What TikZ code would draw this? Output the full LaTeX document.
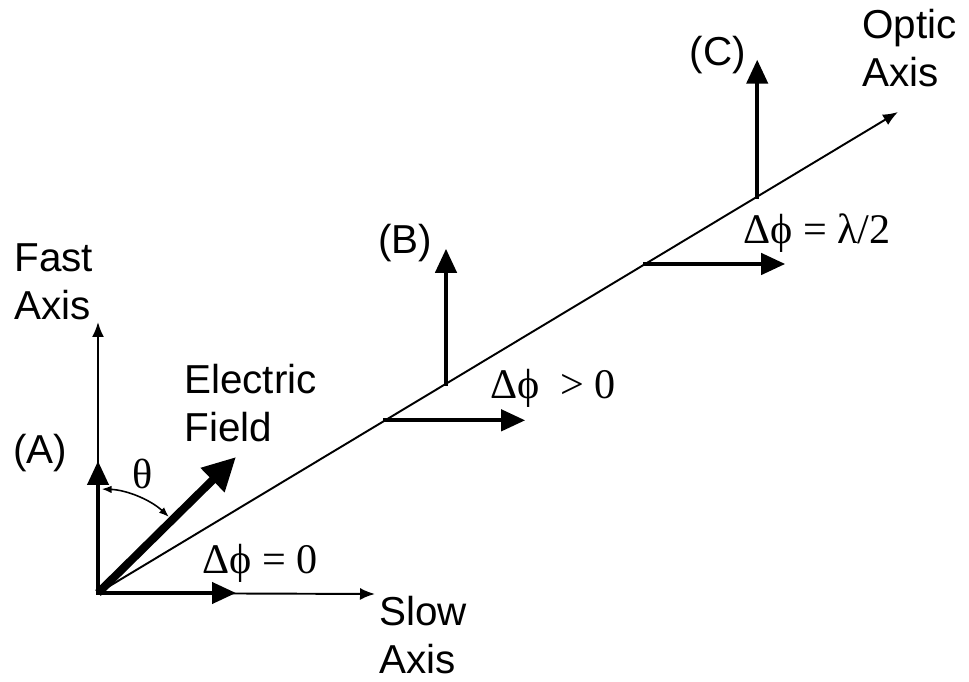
\documentclass[tikz,border=0pt]{standalone}
\usepackage{fontspec}
\setmainfont{Liberation Sans}
\newfontfamily\phasefont{Liberation Serif}
\usetikzlibrary{arrows.meta,calc}

\begin{document}
\begin{tikzpicture}[x=0.02cm,y=0.02cm,line join=miter,
  axisarrow/.style={line width=1.1pt,-{Latex[length=0.3cm,width=0.24cm]}},
  compvec/.style={line width=2.4pt,line cap=rect,-{Triangle[length=0.48cm,width=0.42cm]}},
  fieldvec/.style={line width=4.6pt,-{Triangle[length=0.66cm,width=0.64cm]}},
  anglearrow/.style={line width=0.9pt,{Latex[length=0.2cm,width=0.15cm]}-{Latex[length=0.2cm,width=0.15cm]}},
  lbl/.style={font=\fontsize{23}{27}\selectfont,align=left,inner sep=0pt},
  phase/.style={font=\phasefont\fontsize{24}{28}\selectfont,inner sep=0pt}]
  \useasboundingbox (0,0) rectangle (969,682);
  % axes
  \coordinate (O) at (98,89);
  \coordinate (fastT) at (98,360);
  \coordinate (slowT) at (375,88);
  \coordinate (opticT) at (898,570);
  \draw[axisarrow] (O) -- (fastT);
  \draw[axisarrow] (O) -- (slowT);
  \draw[axisarrow] (O) -- (opticT);
  % (A) entrance
  \coordinate (Av) at (98,221);
  \coordinate (Ah) at (236,89);
  \coordinate (E) at (236,225);
  \draw[compvec] (O) -- (Av);
  \draw[compvec] (O) -- (Ah);
  \draw[fieldvec] (O) -- (E);
  \draw[anglearrow] ($(O)+(88:104)$) arc[start angle=88,end angle=47,radius=104];
  % (B) inside
  \coordinate (Bv) at ($(O)!0.435!(opticT)$);
  \coordinate (Bh) at ($(O)!0.359!(opticT)$);
  \coordinate (BvT) at ($(Bv)+(0,135)$);
  \coordinate (BhT) at ($(Bh)+(140,0)$);
  \draw[compvec] (Bv) -- (BvT);
  \draw[compvec] (Bh) -- (BhT);
  % (C) exit
  \coordinate (Cv) at ($(O)!0.824!(opticT)$);
  \coordinate (Ch) at ($(O)!0.684!(opticT)$);
  \coordinate (CvT) at ($(Cv)+(0,137)$);
  \coordinate (ChT) at ($(Ch)+(140,0)$);
  \draw[compvec] (Cv) -- (CvT);
  \draw[compvec] (Ch) -- (ChT);
  % labels
  \node[lbl,anchor=west] (fastL) at (14,400) {Fast\\Axis};
  \node[lbl,anchor=west] (slowL) at (379,47) {Slow\\Axis};
  \node[lbl,anchor=west] (opticL) at (862,634) {Optic\\Axis};
  \node[lbl,anchor=west] (fieldL) at (184,279) {Electric\\Field};
  \node[lbl] (labA) at (40,229) {(A)};
  \node[lbl] (labB) at (405,439) {(B)};
  \node[lbl] (labC) at (718,627) {(C)};
  \node[phase] (theta) at (143,208) {θ};
  \node[phase] (phA) at (260,119) {Δϕ = 0};
  \node[phase] (phB) at (553,294) {Δϕ \ > 0};
  \node[phase] (phC) at (817,449) {Δϕ = λ/2};
\end{tikzpicture}
\end{document}
